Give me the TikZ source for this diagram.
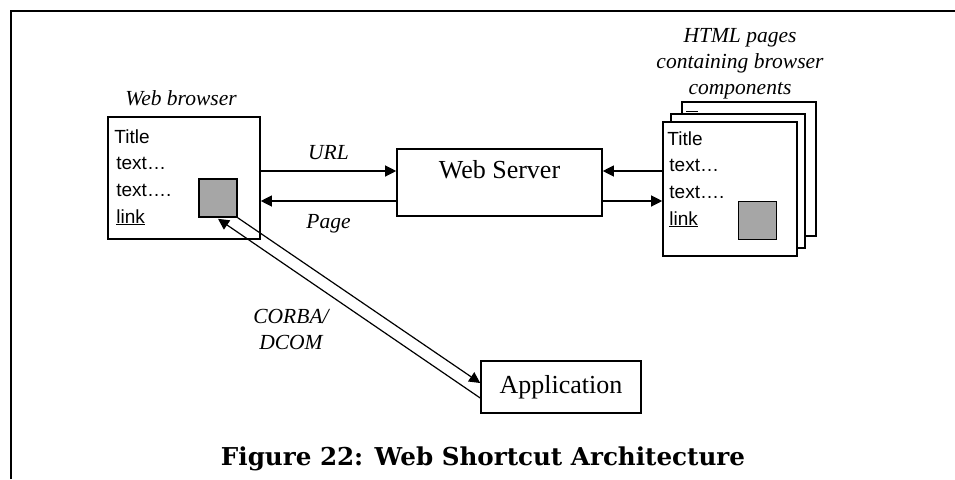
\documentclass[tikz,border=0pt]{standalone}
\usepackage{fontspec}
\setmainfont{Liberation Serif}
\setsansfont{Liberation Sans}
\newfontfamily\capfont{DejaVu Serif}
\usetikzlibrary{arrows.meta,positioning,calc}

\definecolor{compgray}{RGB}{166,166,166}
\tikzset{
  box/.style={draw,line width=1.6pt,inner sep=0pt},
  page/.style={box,fill=white,minimum width=134pt,minimum height=134pt},
  comp/.style={box,fill=compgray,minimum width=38pt,minimum height=38pt},
  arr/.style={line width=1.2pt,-{Triangle[length=11pt,width=11pt]}},
  lbl/.style={font=\fontsize{21.5}{26}\selectfont\itshape,align=center,inner sep=0pt},
  pagetext/.style={font=\sffamily\fontsize{19}{26.7}\selectfont,align=left,anchor=north west,inner sep=0pt},
  boxtext/.style={font=\fontsize{26}{30}\selectfont}
}

\begin{document}
\begin{tikzpicture}[x=1pt,y=-1pt]
\useasboundingbox (0,0) rectangle (955,479);
% draw frame
\draw[line width=2pt] (11,479) -- (11,11) -- (955,11);
% draw web browser
\node[box,minimum width=152pt,minimum height=122pt] (browser) at (184,178) {};
\node[lbl] (browserlbl) at (181,98) {Web browser};
\node[pagetext] (browsertxt) at ($(browser.north west)+(7,13)$)
  {Title\\\hspace{2pt}text\ldots\\\hspace{2pt}text\ldots.\\\hspace{2pt}\underline{link}};
\node[comp] (comp0) at ($(browser)+(34,20)$) {};
% draw web server
\node[box,minimum width=205pt,minimum height=67pt] (srv) at (499.5,182.5) {};
\node[boxtext,inner sep=0pt] (srvtxt) at ($(srv)+(0,-13)$) {Web Server};
% draw html pages, back to front
\node[page] (page3) at (749,169) {};
\draw[line width=1.4pt] ($(page3.north west)+(5,10)$) -- ++(12,0);
\node[page] (page2) at (738,181) {};
\node[page] (page1) at (730,189) {};
\node[pagetext] (pagetxt1) at ($(page1.north west)+(5,10)$)
  {Title\\\hspace{2pt}text\ldots\\\hspace{2pt}text\ldots.\\\hspace{2pt}\underline{link}};
\node[comp] (comp1) at ($(page1)+(27.5,31.5)$) {};
\node[lbl] (pageslbl) at (740,64) {HTML pages\\containing browser\\components};
% draw application
\node[box,boxtext,minimum width=160pt,minimum height=52pt] (app) at (561,387) {Application};
% draw connectors
\coordinate (urly) at (0,171);
\coordinate (pagey) at (0,201);
\draw[arr] (browser.east |- urly) -- (srv.west |- urly) node[lbl,midway,above=11pt] (urllbl) {URL};
\draw[arr] (srv.west |- pagey) -- (browser.east |- pagey) node[lbl,midway,below=13pt] (pagelbl) {Page};
\draw[arr] (page1.west |- urly) -- (srv.east |- urly);
\draw[arr] (srv.east |- pagey) -- (page1.west |- pagey);
\draw[arr] (comp0.south east) -- (app.west |- 0,383);
\draw[arr] (app.west |- 0,398) -- ($(comp0.south)+(0,1)$);
\node[lbl] (corbalbl) at (291,329) {CORBA/\\DCOM};
% draw caption
\node[font=\capfont\bfseries\fontsize{24.6}{28}\selectfont] (caption) at (483,459) {Figure 22: Web Shortcut Architecture};
\end{tikzpicture}
\end{document}
